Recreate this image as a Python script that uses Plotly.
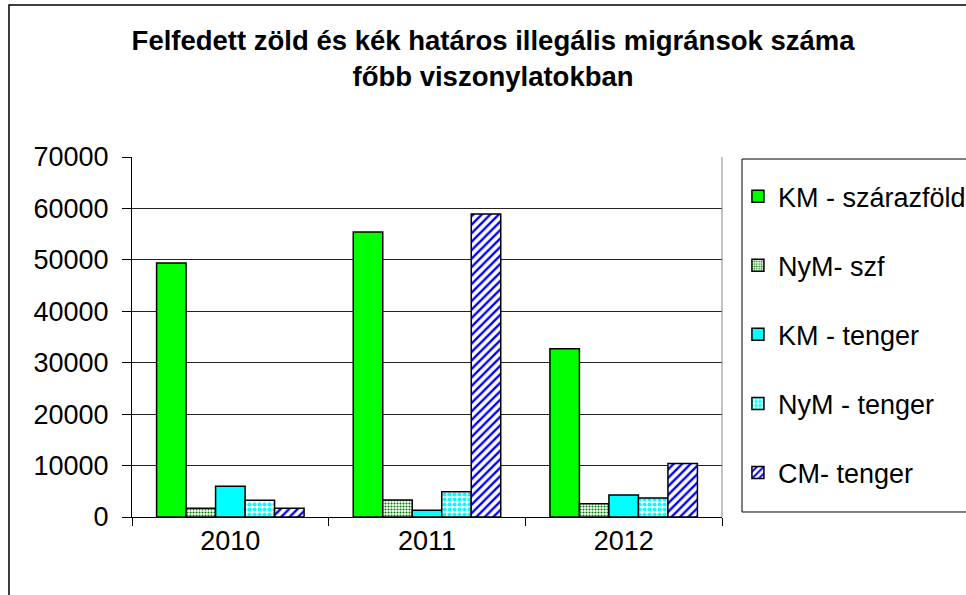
import plotly.graph_objects as go

years = ["2010", "2011", "2012"]
series_names = ["KM - szárazföld", "NyM- szf", "KM - tenger", "NyM - tenger", "CM- tenger"]
km_szarazfold = [49400, 55400, 32700]
nym_szf = [1700, 3300, 2600]
km_tenger = [6000, 1300, 4300]
nym_tenger = [3250, 4900, 3700]
cm_tenger = [1700, 58900, 10400]
y_ticks = [0, 10000, 20000, 30000, 40000, 50000, 60000, 70000]

values = [km_szarazfold, nym_szf, km_tenger, nym_tenger, cm_tenger]
styles = [
    dict(color="#00FF00"),
    dict(color="white", pattern=dict(shape=".", fgcolor="#008000", bgcolor="white", size=3, solidity=0.4, fgopacity=1)),
    dict(color="#00FFFF"),
    dict(color="white", pattern=dict(shape=".", fgcolor="#00FFFF", bgcolor="white", size=5, solidity=0.55, fgopacity=1)),
    dict(color="white", pattern=dict(shape="/", fgcolor="#0000FF", bgcolor="white", size=6, solidity=0.4, fgopacity=1)),
]

FONT = "Liberation Sans, Arial, sans-serif"
fig = go.Figure()
for i, (name, vals, st) in enumerate(zip(series_names, values, styles)):
    fig.add_trace(go.Bar(
        x=years, y=vals, name=name, legendgroup=f"g{i}",
        marker=dict(line=dict(color="black", width=1.5), **st),
    ))

fig.update_layout(
    width=966, height=595,
    margin=dict(l=132, r=244, t=157, b=78, autoexpand=False),
    paper_bgcolor="white", plot_bgcolor="white",
    barmode="group", bargap=0.25, bargroupgap=0,
    font=dict(family=FONT, size=27, color="black"),
    title=dict(
        text="<b>Felfedett zöld és kék határos illegális migránsok száma<br>főbb viszonylatokban</b>",
        x=0.5104, xref="container", xanchor="center",
        y=0.9156, yanchor="top",
        font=dict(family=FONT, size=27.5, color="black"),
    ),
    legend=dict(
        x=1.027, xanchor="left", y=0.958, yanchor="top",
        borderwidth=0, bgcolor="rgba(0,0,0,0)",
        font=dict(family=FONT, size=27),
        traceorder="grouped", tracegroupgap=31,
        itemwidth=30,
    ),
    showlegend=True,
)
fig.update_xaxes(
    type="category", showline=True, linecolor="black", linewidth=1,
    ticks="outside", tickson="boundaries", ticklen=8, tickcolor="black",
    showgrid=False, tickfont=dict(size=27),
)
fig.update_yaxes(
    range=[0, 70000], tickvals=y_ticks, ticktext=[str(v) for v in y_ticks],
    showline=True, linecolor="black", linewidth=1,
    ticks="outside", ticklen=9, tickcolor="black", ticklabelstandoff=8,
    showgrid=True, gridcolor="#222", gridwidth=1,
    zeroline=False, tickfont=dict(size=27),
)
# plot-area right border, legend frame and outer chart border
fig.add_shape(type="line", xref="paper", yref="paper", x0=1, x1=1, y0=0, y1=1,
              line=dict(color="#888", width=1))
fig.add_shape(type="rect", xref="paper", yref="paper", x0=1.0339, x1=1.5, y0=0.0139, y1=0.9944,
              line=dict(color="black", width=1), fillcolor="white", layer="below")
fig.add_shape(type="rect", xref="paper", yref="paper", x0=-0.2085, x1=1.6, y0=-0.4, y1=1.4222,
              line=dict(color="black", width=1.5), fillcolor="rgba(0,0,0,0)", layer="below")

fig.write_html("out.html", config={"displayModeBar": False},
               post_script="document.body.style.margin='0';")
